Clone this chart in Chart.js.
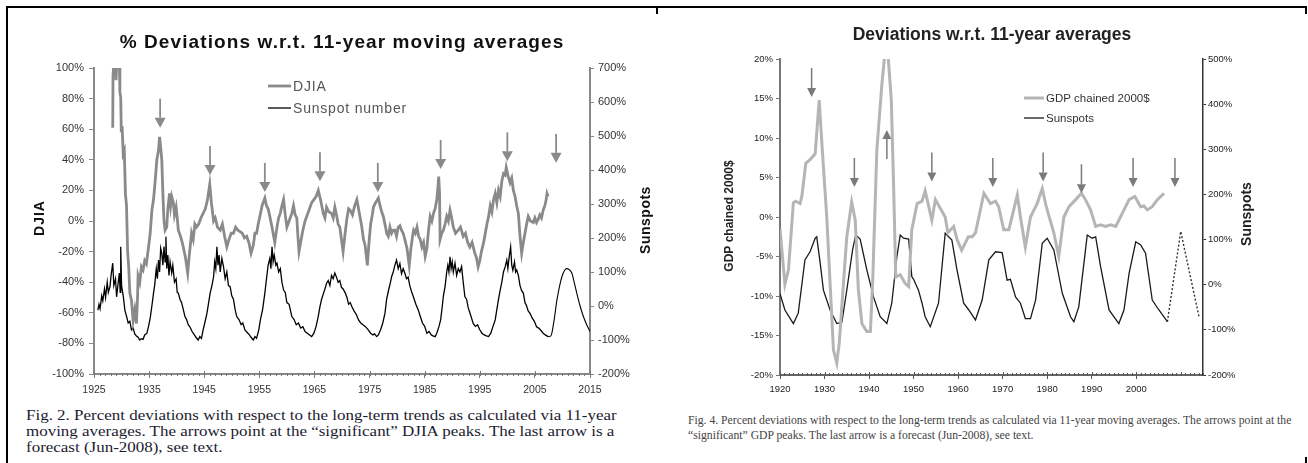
<!DOCTYPE html>
<html>
<head>
<meta charset="utf-8">
<script src="https://cdn.jsdelivr.net/npm/chart.js@4.4.1/dist/chart.umd.min.js"></script>
<style>
  html, body { margin: 0; padding: 0; background: #fff; }
  body { width: 1308px; height: 463px; position: relative; overflow: hidden; }
  .line { position: absolute; background: #000; }
  canvas { position: absolute; }
  #c1 { left: 8px; top: 9px; }
  #c2 { left: 660px; top: 9px; }
  .caption { position: absolute; white-space: nowrap; font-family: "Liberation Serif", "Times New Roman", serif; transform-origin: 0 0; }
  #cap1 { left: 26px; top: 407px; font-size: 14.5px; line-height: 16px; color: #1c1c30; transform: scaleX(1.17); }
  #cap2 { left: 688px; top: 413px; font-size: 11.7px; line-height: 15px; color: #444; }
</style>
</head>
<body>
<div class="line" style="left:6px;top:6px;width:1301px;height:2px"></div>
<div class="line" style="left:6px;top:6px;width:2px;height:457px"></div>
<div class="line" style="left:656px;top:7px;width:2px;height:7px"></div>
<div class="line" style="left:1305px;top:7px;width:2px;height:7px"></div>
<div class="line" style="left:1305px;top:457px;width:2px;height:6px"></div>

<canvas id="c1" width="647" height="398"></canvas>
<canvas id="c2" width="640" height="400"></canvas>

<div class="caption" id="cap1">Fig. 2. Percent deviations with respect to the long-term trends as calculated via 11-year<br>moving averages. The arrows point at the “significant” DJIA peaks. The last arrow is a<br>forecast (Jun-2008), see text.</div>
<div class="caption" id="cap2">Fig. 4. Percent deviations with respect to the long-term trends as calculated via 11-year moving averages. The arrows point at the<br>“significant” GDP peaks. The last arrow is a forecast (Jun-2008), see text.</div>

<script>
// ---- Fig. 2 data: [year, % deviation] ----
const djia = [
  [1928.4, 61], [1928.45, 95], [1928.7, 108], [1929.0, 92], [1929.2, 110], [1929.6, 104], [1929.7, 84],
  [1929.85, 81], [1929.95, 58], [1930.1, 62], [1930.3, 44], [1930.5, 46], [1930.7, 18], [1930.9, 10],
  [1931.1, -20], [1931.3, -30], [1931.5, -47], [1931.8, -52], [1932.1, -65], [1932.4, -58], [1932.7, -67],
  [1932.9, -50], [1933.0, -36], [1933.3, -40], [1933.6, -30], [1933.9, -32], [1934.2, -26], [1934.5, -28],
  [1934.9, -17], [1935.2, -8], [1935.5, 7], [1935.8, 14], [1936.1, 26], [1936.4, 40], [1936.7, 46],
  [1936.9, 55], [1937.1, 48], [1937.3, 40], [1937.5, 18], [1937.7, 0], [1937.9, -6], [1938.2, -4],
  [1938.4, 8], [1938.7, 18], [1938.9, 10], [1939.1, 16], [1939.4, 12], [1939.6, 4], [1939.9, 9],
  [1940.1, 2], [1940.3, -6], [1940.7, -10], [1941.0, -14], [1941.2, -17], [1941.6, -24], [1942.0, -34],
  [1942.3, -22], [1942.7, -8], [1943.0, -12], [1943.3, -2], [1943.6, -4], [1944.0, -2], [1944.4, 2],
  [1944.8, 5], [1945.2, 8], [1945.6, 14], [1946.0, 24], [1946.3, 12], [1946.7, 0], [1947.0, 2],
  [1947.4, -4], [1947.9, -6], [1948.3, -2], [1948.7, -10], [1949.1, -17], [1949.5, -12], [1949.9, -8],
  [1950.3, -8], [1950.7, -4], [1951.1, -6], [1951.5, -7], [1951.9, -8], [1952.3, -11], [1952.7, -10],
  [1953.1, -14], [1953.5, -21], [1953.9, -16], [1954.2, -8], [1954.5, -8], [1954.8, -2], [1955.1, 3],
  [1955.5, 10], [1956.0, 15], [1956.3, 10], [1956.6, 8], [1956.9, 3], [1957.3, -4], [1957.8, -14],
  [1958.2, -4], [1958.5, 2], [1958.8, 5], [1959.1, 10], [1959.4, 14], [1959.7, 4], [1960.0, -4],
  [1960.4, 0], [1960.9, 5], [1961.2, 10], [1961.5, 4], [1961.8, 2], [1962.0, -10], [1962.2, -20],
  [1962.6, -12], [1962.9, -6], [1963.3, 0], [1963.7, 4], [1964.1, 8], [1964.5, 12], [1964.9, 14],
  [1965.3, 16], [1965.7, 20], [1966.1, 14], [1966.6, 5], [1966.9, 2], [1967.2, 9], [1967.6, 6],
  [1968.1, 5], [1968.4, 2], [1968.7, 9], [1969.0, 4], [1969.3, -2], [1969.6, -4], [1969.9, -12],
  [1970.2, -20], [1970.5, -10], [1970.9, 2], [1971.2, 8], [1971.5, 7], [1971.9, 4], [1972.3, 10],
  [1972.7, 14], [1973.0, 8], [1973.3, 2], [1973.6, -4], [1973.9, -12], [1974.2, -16], [1974.6, -29],
  [1974.9, -14], [1975.2, -2], [1975.5, 4], [1975.7, 9], [1976.1, 12], [1976.6, 15], [1976.9, 10],
  [1977.2, 6], [1977.5, 3], [1977.9, -4], [1978.1, -8], [1978.4, -10], [1978.7, -4], [1979.0, -8],
  [1979.3, -6], [1979.6, -6], [1979.9, -10], [1980.2, -4], [1980.5, -3], [1980.8, -6], [1981.1, -8],
  [1981.4, -12], [1981.8, -18], [1982.2, -29], [1982.5, -18], [1982.8, -10], [1983.0, -6], [1983.3, -8],
  [1983.6, -4], [1983.9, -10], [1984.2, -12], [1984.5, -17], [1984.8, -14], [1985.1, -23], [1985.4, -18],
  [1985.7, -6], [1986.0, 3], [1986.3, 0], [1986.6, 5], [1986.9, 8], [1987.2, 14], [1987.4, 22],
  [1987.55, 29], [1987.7, 18], [1987.8, -12], [1988.1, -8], [1988.4, -6], [1988.7, -2], [1989.0, 3],
  [1989.3, 0], [1989.6, 7], [1989.9, 2], [1990.2, -4], [1990.6, -8], [1991.1, -6], [1991.5, -4],
  [1992.0, -10], [1992.4, -8], [1992.8, -14], [1993.2, -17], [1993.6, -14], [1994.1, -21], [1994.4, -24],
  [1994.7, -30], [1995.0, -26], [1995.3, -20], [1995.7, -14], [1996.0, -8], [1996.3, -2], [1996.6, 3],
  [1996.9, 10], [1997.2, 6], [1997.5, 14], [1997.8, 18], [1998.1, 12], [1998.4, 20], [1998.7, 16],
  [1999.0, 26], [1999.3, 31], [1999.6, 30], [1999.8, 35], [2000.1, 30], [2000.5, 25], [2000.8, 28],
  [2001.1, 20], [2001.4, 16], [2001.7, 10], [2002.0, 5], [2002.3, -10], [2002.6, -21], [2002.9, -14],
  [2003.2, -8], [2003.5, -2], [2003.8, 3], [2004.2, 0], [2004.7, -1], [2005.0, 2], [2005.3, -1],
  [2005.6, 1], [2005.9, 4], [2006.2, 2], [2006.5, 7], [2006.8, 10], [2007.0, 13], [2007.2, 18], [2007.4, 16]
];

const sunspotNumber = [
  [1925.7, -12], [1925.9, 5], [1926.1, -8], [1926.4, 30], [1926.6, 15], [1926.9, 50], [1927.1, 25],
  [1927.4, 70], [1927.6, 40], [1927.9, 57], [1928.1, 90], [1928.4, 126], [1928.6, 60], [1928.9, 80],
  [1929.1, 27], [1929.4, 70], [1929.6, 97], [1929.75, 40], [1929.85, 174], [1930.0, 60], [1930.3, 30],
  [1930.6, -12], [1930.9, -30], [1931.2, -50], [1931.5, -45], [1931.8, -70], [1932.1, -65], [1932.4, -82],
  [1932.7, -88], [1933.0, -92], [1933.3, -100], [1933.6, -96], [1933.9, -98], [1934.2, -85], [1934.6, -80],
  [1934.9, -60], [1935.2, -35], [1935.5, 0], [1935.8, 38], [1936.0, 60], [1936.3, 110], [1936.5, 80],
  [1936.7, 135], [1936.9, 100], [1937.1, 170], [1937.3, 155], [1937.5, 120], [1937.7, 175], [1937.9, 130],
  [1938.05, 204], [1938.2, 110], [1938.4, 150], [1938.6, 90], [1938.8, 130], [1939.1, 97], [1939.3, 120],
  [1939.6, 70], [1939.9, 80], [1940.1, 40], [1940.3, 38], [1940.6, 20], [1940.9, 10], [1941.2, -10],
  [1941.5, -31], [1941.8, -40], [1942.1, -55], [1942.4, -61], [1942.8, -75], [1943.1, -82], [1943.5, -92],
  [1943.9, -100], [1944.2, -90], [1944.5, -95], [1944.8, -70], [1945.1, -50], [1945.5, -21], [1945.8, 10],
  [1946.1, 40], [1946.4, 60], [1946.7, 86], [1946.9, 130], [1947.1, 110], [1947.3, 174], [1947.5, 120],
  [1947.7, 150], [1947.9, 100], [1948.2, 140], [1948.5, 116], [1948.8, 80], [1949.1, 100], [1949.4, 60],
  [1949.7, 57], [1950.0, 30], [1950.3, 20], [1950.6, -10], [1950.9, -31], [1951.3, -40], [1951.7, -55],
  [1952.0, -50], [1952.4, -71], [1952.8, -78], [1953.2, -85], [1953.5, -92], [1953.9, -100], [1954.2, -90],
  [1954.5, -95], [1954.9, -70], [1955.2, -40], [1955.6, -10], [1956.0, 38], [1956.3, 80], [1956.6, 120],
  [1956.9, 140], [1957.1, 110], [1957.3, 174], [1957.5, 130], [1957.7, 150], [1958.0, 120], [1958.2, 126],
  [1958.5, 100], [1958.8, 110], [1959.1, 70], [1959.4, 47], [1959.7, 40], [1960.0, 10], [1960.4, 5],
  [1960.9, -31], [1961.3, -40], [1961.7, -55], [1962.1, -50], [1962.5, -65], [1962.9, -61], [1963.3, -75],
  [1963.7, -80], [1964.1, -85], [1964.5, -90], [1964.9, -80], [1965.3, -60], [1965.7, -30], [1966.0, -2],
  [1966.3, 20], [1966.7, 40], [1967.0, 55], [1967.2, 67], [1967.5, 75], [1967.8, 60], [1968.1, 90],
  [1968.4, 80], [1968.7, 97], [1969.0, 85], [1969.3, 70], [1969.6, 75], [1969.9, 55], [1970.2, 50],
  [1970.6, 38], [1970.9, 25], [1971.2, 5], [1971.5, 10], [1971.8, -2], [1972.2, -15], [1972.6, -25],
  [1973.0, -41], [1973.4, -50], [1973.8, -55], [1974.2, -60], [1974.5, -65], [1974.8, -71], [1975.2, -80],
  [1975.6, -85], [1975.9, -82], [1976.3, -90], [1976.6, -85], [1977.0, -70], [1977.4, -50], [1977.8, -21],
  [1978.1, 20], [1978.5, 50], [1978.8, 70], [1979.0, 86], [1979.3, 100], [1979.6, 120], [1979.9, 135],
  [1980.2, 110], [1980.5, 125], [1980.8, 95], [1981.1, 110], [1981.4, 97], [1981.7, 80], [1982.0, 85],
  [1982.3, 60], [1982.7, 38], [1983.0, 25], [1983.4, 5], [1983.8, -10], [1984.2, -30], [1984.6, -50],
  [1985.0, -60], [1985.4, -80], [1985.8, -75], [1986.2, -85], [1986.5, -88], [1986.9, -90], [1987.2, -80],
  [1987.6, -60], [1987.9, -41], [1988.2, 0], [1988.4, 30], [1988.7, 57], [1989.0, 100], [1989.2, 120],
  [1989.4, 100], [1989.6, 145], [1989.8, 110], [1990.0, 130], [1990.2, 100], [1990.5, 126], [1990.8, 90],
  [1991.1, 110], [1991.4, 100], [1991.7, 116], [1992.0, 70], [1992.3, 27], [1992.6, 20], [1992.9, -5],
  [1993.2, -20], [1993.5, -35], [1993.8, -51], [1994.2, -60], [1994.6, -55], [1995.0, -70], [1995.4, -80],
  [1995.8, -85], [1996.2, -88], [1996.6, -90], [1997.0, -80], [1997.4, -60], [1997.8, -41], [1998.1, -10],
  [1998.4, 20], [1998.7, 47], [1999.0, 70], [1999.3, 100], [1999.6, 115], [1999.9, 135], [2000.1, 110],
  [2000.3, 140], [2000.6, 174], [2000.8, 120], [2001.0, 105], [2001.3, 130], [2001.5, 100], [2001.7, 106],
  [2002.0, 90], [2002.3, 60], [2002.6, 45], [2002.9, 38], [2003.2, 10], [2003.5, 0], [2003.8, -15],
  [2004.1, -21], [2004.5, -35], [2004.9, -45], [2005.3, -61], [2005.7, -65], [2006.1, -72], [2006.5, -80],
  [2006.9, -85], [2007.4, -90]
];

const sunspotForecast = [
  [2007.4, -90], [2007.9, -88], [2008.5, -40], [2009.0, 18], [2009.5, 60], [2009.9, 86], [2010.4, 105],
  [2010.8, 110], [2011.2, 107], [2011.7, 97], [2012.2, 65], [2012.6, 38], [2013.2, 0], [2013.8, -31],
  [2014.4, -55], [2015.0, -75]
];

// arrows: [year, DJIA % at the arrow tip]
const djiaArrows = [
  [1937.0, 61], [1946.05, 30], [1956.0, 19], [1966.0, 26], [1976.5, 19], [1987.9, 34], [2000.0, 39], [2008.85, 38]
];

// ---- Fig. 4 data ----
const gdp = [
  [1920.0, -1.5], [1921.1, -8.5], [1921.9, -6.7], [1923.0, 1.8], [1923.5, 2.0], [1924.5, 1.7], [1924.9, 2.6],
  [1925.8, 6.8], [1926.8, 7.3], [1927.9, 8.0], [1928.8, 14.8], [1929.5, 8.5], [1930.5, 0], [1931.25, -8.4],
  [1932.0, -16.8], [1932.75, -18.5], [1933.3, -16], [1934.25, -8.4], [1935.0, -2.5], [1936.1, 1.9],
  [1936.9, -0.4], [1937.6, -9.2], [1938.4, -13.5], [1939.5, -14.5], [1940.3, -14.5], [1940.8, -8.4],
  [1941.75, 8.5], [1942.9, 16.9], [1943.6, 21], [1944.2, 21], [1945.0, 14.8], [1945.5, 4.3], [1946.0, -7.6],
  [1947.0, -7.3], [1948.1, -8.4], [1948.9, -8.8], [1949.6, -1.6], [1950.8, 1.7], [1951.9, 2.0], [1952.6, 3.3],
  [1954.1, -0.4], [1954.9, 2.2], [1957.1, 0], [1957.7, -2], [1959.0, -1.2], [1959.8, -2.9], [1960.8, -4.2],
  [1962.3, -2.5], [1963.2, -2.5], [1963.9, -2.0], [1965.8, 3.0], [1967.25, 1.7], [1968.4, 2.0], [1969.1, 1.3],
  [1970.25, -1.6], [1971.4, -1.6], [1972.3, 0.5], [1973.3, 2.8], [1974.0, 0], [1975.1, -3.8], [1976.25, 0],
  [1977.75, 1.7], [1978.9, 3.6], [1979.8, 1.3], [1981.5, -2.0], [1982.6, -5.0], [1983.75, 0], [1984.9, 1.3],
  [1986.4, 2.2], [1987.7, 3.0], [1988.6, 2.2], [1989.75, 0.9], [1990.9, -1.2], [1992.0, -1.0], [1993.1, -1.2],
  [1994.25, -1.0], [1995.4, -1.2], [1996.9, 0.5], [1998.4, 2.2], [1999.7, 2.6], [2001.0, 1.3], [2001.75, 1.4],
  [2002.5, 0.9], [2003.6, 1.3], [2004.75, 2.2], [2006.25, 3.0]
];

const sunspots = [
  [1920.0, -20], [1921.1, -56], [1923.0, -86], [1924.1, -63], [1925.6, 55], [1926.75, 73], [1927.9, 103],
  [1928.25, 106], [1929.0, 50], [1929.75, -12], [1931.25, -56], [1932.75, -86], [1933.9, -83], [1935.0, -12],
  [1936.3, 77], [1937.0, 110], [1938.0, 101], [1939.5, 33], [1941.0, -27], [1942.5, -71], [1944.0, -86],
  [1945.1, -41], [1946.25, 62], [1947.0, 110], [1947.75, 103], [1948.9, 101], [1949.6, 18], [1950.0, 12],
  [1951.1, -12], [1951.9, -41], [1952.6, -71], [1953.75, -93], [1955.6, -41], [1957.1, 114], [1958.6, 99],
  [1959.75, 33], [1961.25, -41], [1962.4, -56], [1963.9, -78], [1965.4, -34], [1966.9, 55], [1968.4, 73],
  [1969.9, 71], [1971.0, 10], [1971.75, 12], [1972.9, -27], [1974.0, -41], [1975.1, -75], [1976.25, -75],
  [1977.4, -34], [1978.9, 92], [1980.0, 103], [1981.5, 77], [1983.4, -19], [1985.25, -71], [1986.0, -82],
  [1987.1, -49], [1989.0, 110], [1990.1, 103], [1990.9, 106], [1992.0, 40], [1993.9, -56], [1996.1, -86],
  [1997.25, -56], [1998.4, 25], [1999.9, 95], [2001.0, 88], [2002.1, 70], [2003.6, -34], [2005.1, -56],
  [2007.0, -82]
];

const sunspotsForecast = [[2007.0, -82], [2010.0, 118], [2014.1, -71]];

// arrows: [year, GDP % at the arrow tip, direction]
const gdpArrows = [
  [1927.1, 15.2, 'down'], [1936.7, 3.8, 'down'], [1944.0, 11, 'up'], [1954.1, 4.5, 'down'],
  [1967.8, 3.8, 'down'], [1979.1, 4.5, 'down'], [1987.7, 3.0, 'down'], [1999.3, 3.8, 'down'], [2008.7, 3.8, 'down']
];

const toXY = arr => arr.map(([x, y]) => ({ x, y }));

Chart.defaults.font.family = '"Liberation Sans", Arial, Helvetica, sans-serif';
Chart.defaults.animation = false;

// small yearly ticks on the x axis
const minorTicks = {
  id: 'minorTicks',
  afterDraw(chart, args, o) {
    const x = chart.scales.x, ctx = chart.ctx, y0 = chart.chartArea.bottom;
    ctx.save();
    ctx.strokeStyle = o.color;
    ctx.lineWidth = 1;
    for (let v = Math.ceil(x.min); v <= x.max; v++) {
      const px = Math.round(x.getPixelForValue(v)) + 0.5;
      const major = v % 10 === o.majorMod;
      ctx.beginPath();
      ctx.moveTo(px, y0 - (major ? o.majorUp : o.up));
      ctx.lineTo(px, y0 + o.down);
      ctx.stroke();
    }
    ctx.restore();
  }
};

const arrows = {
  id: 'arrows',
  afterDatasetsDraw(chart, args, o) {
    const x = chart.scales.x, y = chart.scales.y, ctx = chart.ctx;
    ctx.save();
    ctx.fillStyle = o.color;
    ctx.strokeStyle = o.color;
    ctx.lineWidth = o.shaft;
    o.items.forEach(([yr, tip, dir]) => {
      const px = x.getPixelForValue(yr), py = y.getPixelForValue(tip);
      const s = dir === 'up' ? 1 : -1;
      const tail = py + s * o.len, base = py + s * o.head;
      ctx.beginPath();
      ctx.moveTo(px, tail);
      ctx.lineTo(px, base);
      ctx.stroke();
      ctx.beginPath();
      ctx.moveTo(px, py);
      ctx.lineTo(px - o.width / 2, base);
      ctx.lineTo(px + o.width / 2, base);
      ctx.closePath();
      ctx.fill();
    });
    ctx.restore();
  }
};

const insideLegend = {
  id: 'insideLegend',
  afterDraw(chart, args, o) {
    const ctx = chart.ctx;
    ctx.save();
    ctx.font = o.font;
    ctx.textBaseline = 'middle';
    ctx.letterSpacing = o.spacing || '0px';
    chart.data.datasets.filter(d => !d.hideInLegend).forEach((d, i) => {
      const y = o.y + i * o.gap;
      ctx.strokeStyle = d.borderColor;
      ctx.lineWidth = d.borderWidth;
      ctx.beginPath();
      ctx.moveTo(o.x, y);
      ctx.lineTo(o.x + o.sample, y);
      ctx.stroke();
      ctx.fillStyle = o.color;
      ctx.fillText(d.label, o.x + o.sample + o.pad, y + 1);
    });
    ctx.restore();
  }
};

// chart title and axis titles
const labels = {
  id: 'labels',
  afterDraw(chart, args, o) {
    const ctx = chart.ctx;
    o.items.forEach(t => {
      ctx.save();
      ctx.font = t.font;
      ctx.fillStyle = t.color;
      ctx.textAlign = 'center';
      ctx.textBaseline = 'middle';
      ctx.letterSpacing = t.spacing || '0px';
      ctx.translate(t.x, t.y);
      if (t.rotate) ctx.rotate(-Math.PI / 2);
      ctx.fillText(t.text, 0, 0);
      ctx.restore();
    });
  }
};

// ---------------- Fig. 2 ----------------
new Chart(document.getElementById('c1'), {
  type: 'line',
  data: {
    datasets: [
      { label: 'DJIA', data: toXY(djia), yAxisID: 'y', borderColor: '#8a8a8a', borderWidth: 2.8, pointRadius: 0, tension: 0 },
      { label: 'Sunspot number', data: toXY(sunspotNumber), yAxisID: 'y2', borderColor: '#000', borderWidth: 1.3, pointRadius: 0, tension: 0 },
      { label: 'forecast', data: toXY(sunspotForecast), yAxisID: 'y2', borderColor: '#000', borderWidth: 1.1, pointRadius: 0,
        cubicInterpolationMode: 'monotone', hideInLegend: true }
    ]
  },
  options: {
    responsive: false,
    layout: { padding: { top: 59, left: 0, right: 0, bottom: 0 } },
    plugins: {
      legend: { display: false },
      tooltip: { enabled: false },
      minorTicks: { color: '#777', up: 1, majorUp: 3, down: 2, majorMod: 5 },
      arrows: { items: djiaArrows, color: '#8a8a8a', shaft: 1.8, len: 29, head: 10, width: 11 },
      insideLegend: { x: 260, y: 77, gap: 22, sample: 23, pad: 2, font: '14px "Liberation Sans", Arial', spacing: '0.8px', color: '#555' },
      labels: { items: [
        { text: '% Deviations w.r.t. 11-year moving averages', x: 334, y: 34, font: 'bold 19px "Liberation Sans", Arial', spacing: '1.1px', color: '#111' },
        { text: 'DJIA', x: 32, y: 209, rotate: true, font: 'bold 14px "Liberation Sans", Arial', spacing: '1px', color: '#111' },
        { text: 'Sunspots', x: 638, y: 211, rotate: true, font: 'bold 14px "Liberation Sans", Arial', spacing: '0.5px', color: '#111' }
      ] }
    },
    scales: {
      x: {
        type: 'linear', min: 1925, max: 2015,
        ticks: { stepSize: 10, callback: v => String(v), maxRotation: 0, autoSkip: false, font: { size: 10.5 }, color: '#333', padding: 6 },
        grid: { drawOnChartArea: false, tickLength: 4, color: '#777' },
        border: { color: '#888', width: 2 },
        afterFit: s => { s.height = 33; }
      },
      y: {
        position: 'left', min: -100, max: 100,
        ticks: { stepSize: 20, callback: v => v + '%', font: { size: 11 }, color: '#333', padding: 5 },
        grid: { drawOnChartArea: false, tickLength: 5, color: '#888' },
        border: { color: '#888', width: 2 },
        afterFit: s => { s.width = 86; }
      },
      y2: {
        position: 'right', min: -200, max: 700,
        ticks: { stepSize: 100, callback: v => v + '%', font: { size: 11 }, color: '#333', padding: 4 },
        grid: { drawOnChartArea: false, tickLength: 4, color: '#888' },
        border: { color: '#888', width: 2 },
        afterFit: s => { s.width = 65; }
      }
    }
  },
  plugins: [minorTicks, arrows, insideLegend, labels]
});

// ---------------- Fig. 4 ----------------
new Chart(document.getElementById('c2'), {
  type: 'line',
  data: {
    datasets: [
      { label: 'GDP chained 2000$', data: toXY(gdp), yAxisID: 'y', borderColor: '#b5b5b5', borderWidth: 3, pointRadius: 0, tension: 0 },
      { label: 'Sunspots', data: toXY(sunspots), yAxisID: 'y2', borderColor: '#1a1a1a', borderWidth: 1.3, pointRadius: 0, tension: 0 },
      { label: 'forecast', data: toXY(sunspotsForecast), yAxisID: 'y2', borderColor: '#333', borderWidth: 1.4, borderDash: [2, 2],
        pointRadius: 0, tension: 0, hideInLegend: true }
    ]
  },
  options: {
    responsive: false,
    layout: { padding: { top: 50, left: 0, right: 0, bottom: 0 } },
    plugins: {
      legend: { display: false },
      tooltip: { enabled: false },
      minorTicks: { color: '#555', up: 2, majorUp: 3, down: 1, majorMod: 0 },
      arrows: { items: gdpArrows, color: '#7a7a7a', shaft: 1.5, len: 29, head: 9, width: 9 },
      insideLegend: { x: 364, y: 89, gap: 20, sample: 20, pad: 2, font: '11.5px "Liberation Sans", Arial', color: '#333' },
      labels: { items: [
        { text: 'Deviations w.r.t. 11-year averages', x: 332, y: 26, font: 'bold 17.5px "Liberation Sans", Arial', color: '#222' },
        { text: 'GDP chained 2000$', x: 70, y: 207, rotate: true, font: 'bold 12px "Liberation Sans", Arial', color: '#222' },
        { text: 'Sunspots', x: 587, y: 205, rotate: true, font: 'bold 14px "Liberation Sans", Arial', color: '#222' }
      ] }
    },
    scales: {
      x: {
        type: 'linear', min: 1920, max: 2015,
        afterBuildTicks: s => { s.ticks = s.ticks.filter(t => t.value % 10 === 0); },
        ticks: { stepSize: 10, callback: v => String(v), maxRotation: 0, autoSkip: false, font: { size: 9.5 }, color: '#222', padding: 5 },
        grid: { drawOnChartArea: false, tickLength: 4, color: '#555' },
        border: { color: '#666', width: 2 },
        afterFit: s => { s.height = 34; }
      },
      y: {
        position: 'left', min: -20, max: 20,
        ticks: { stepSize: 5, callback: v => v + '%', font: { size: 9.5 }, color: '#222', padding: 3 },
        grid: { drawOnChartArea: false, tickLength: 4, color: '#777' },
        border: { color: '#777', width: 2 },
        afterFit: s => { s.width = 120; }
      },
      y2: {
        position: 'right', min: -200, max: 500,
        ticks: { stepSize: 100, callback: v => v + '%', font: { size: 9.5 }, color: '#222', padding: 2 },
        grid: { drawOnChartArea: false, tickLength: 3, color: '#333' },
        border: { color: '#333', width: 1.5 },
        afterFit: s => { s.width = 97; }
      }
    }
  },
  plugins: [minorTicks, arrows, insideLegend, labels]
});
</script>
</body>
</html>
